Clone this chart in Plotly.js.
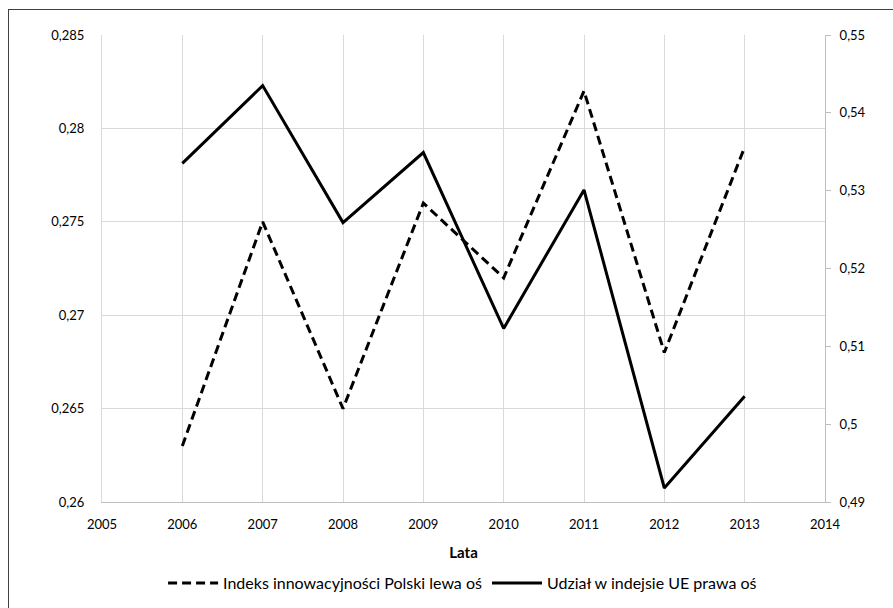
<!DOCTYPE html>
<html>
<head>
<meta charset="utf-8">
<script src="https://cdn.plot.ly/plotly-3.0.1.min.js"></script>
<style>
  html, body { margin: 0; padding: 0; background: #fff; overflow: hidden; }
  #frame { position: absolute; left: 8px; top: 9px; width: 1000px; height: 800px; border-left: 1px solid #404040; border-top: 1px solid #404040; }
  #chart { position: absolute; left: 0; top: 0; width: 893px; height: 608px; }
</style>
</head>
<body>
<div id="frame"></div>
<div id="chart"></div>
<script>
const years = [2006, 2007, 2008, 2009, 2010, 2011, 2012, 2013];
const innovationIndex = [0.263, 0.275, 0.265, 0.276, 0.272, 0.282, 0.268, 0.279];
const euShare = [0.5335, 0.5435, 0.5259, 0.5349, 0.5123, 0.5301, 0.4918, 0.5036];

const leftTickVals = [0.26, 0.265, 0.27, 0.275, 0.28, 0.285];
const leftTickText = ['0,26', '0,265', '0,27', '0,275', '0,28', '0,285'];
const rightTickVals = [0.49, 0.50, 0.51, 0.52, 0.53, 0.54, 0.55];
const rightTickText = ['0,49', '0,5', '0,51', '0,52', '0,53', '0,54', '0,55'];
const xTickVals = [2005, 2006, 2007, 2008, 2009, 2010, 2011, 2012, 2013, 2014];

const seriesNames = ['Indeks innowacyjności Polski lewa oś', 'Udział w indejsie UE prawa oś'];
const xTitle = 'Lata';

const font = { family: 'Lato, "Open Sans", sans-serif', size: 13, color: '#000' };

const traces = [
  {
    x: years, y: innovationIndex, name: seriesNames[0], type: 'scatter', mode: 'lines',
    line: { color: '#000', width: 3, dash: '9px,5px' }, yaxis: 'y'
  },
  {
    x: years, y: euShare, name: seriesNames[1], type: 'scatter', mode: 'lines',
    line: { color: '#000', width: 3 }, yaxis: 'y2'
  }
];

const layout = {
  width: 893, height: 608,
  margin: { l: 102, r: 68, t: 35, b: 106 },
  paper_bgcolor: 'rgba(0,0,0,0)',
  plot_bgcolor: 'rgba(0,0,0,0)',
  font: font,
  showlegend: true,
  legend: {
    orientation: 'h', xref: 'container', yref: 'container',
    x: 0.518, xanchor: 'center', y: 0.041, yanchor: 'middle',
    font: { family: font.family, size: 16, color: '#000' },
    itemwidth: 50, traceorder: 'normal'
  },
  xaxis: {
    range: [2005, 2014], tickvals: xTickVals, ticktext: xTickVals.map(String),
    showgrid: true, gridcolor: '#d9d9d9', gridwidth: 1,
    showline: true, linecolor: '#bfbfbf', linewidth: 1,
    ticks: '', ticklabelstandoff: 10, zeroline: false, automargin: false,
    title: { text: xTitle, font: { family: font.family, size: 15, color: '#000', weight: 'bold' }, standoff: 16 },
    fixedrange: true
  },
  yaxis: {
    range: [0.26, 0.285], tickvals: leftTickVals, ticktext: leftTickText,
    showgrid: true, gridcolor: '#d9d9d9', gridwidth: 1,
    showline: true, linecolor: '#d9d9d9', linewidth: 1, automargin: false,
    ticks: '', ticklabelstandoff: 14, zeroline: false, fixedrange: true
  },
  yaxis2: {
    range: [0.49, 0.55], tickvals: rightTickVals, ticktext: rightTickText,
    overlaying: 'y', side: 'right', showgrid: false,
    showline: true, linecolor: '#bfbfbf', linewidth: 1, automargin: false,
    ticks: 'outside', ticklen: 5, tickcolor: '#bfbfbf', ticklabelstandoff: 6,
    zeroline: false, fixedrange: true
  }
};

Plotly.newPlot('chart', traces, layout, { displayModeBar: false, staticPlot: true });
</script>
</body>
</html>
